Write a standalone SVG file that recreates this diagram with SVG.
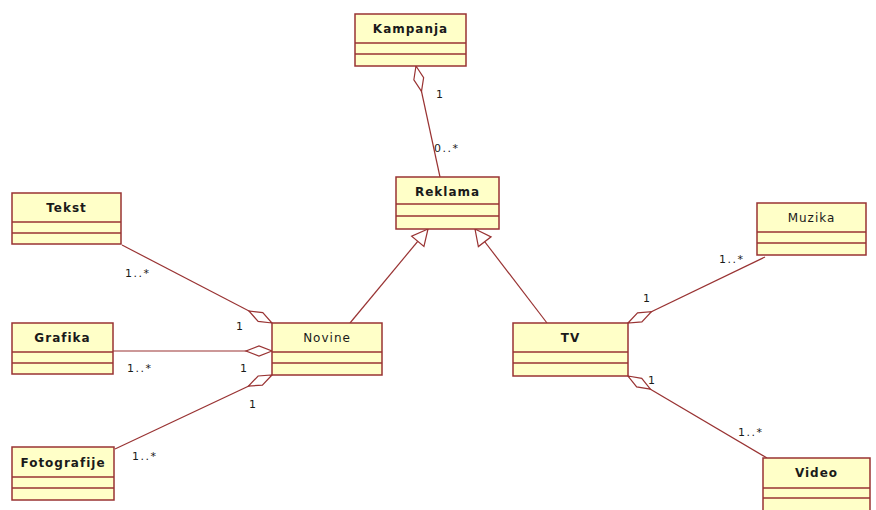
<svg xmlns="http://www.w3.org/2000/svg" width="876" height="510" viewBox="0 0 876 510">
<style>
.box{fill:#FFFFC8;stroke:#993333;stroke-width:1.5}
.div{stroke:#993333;stroke-width:1.5}
.name{font-family:"DejaVu Sans",sans-serif;font-size:12px;font-weight:bold;letter-spacing:1px;fill:#1a1a1a;text-anchor:middle}
.reg{font-weight:normal}
.conn{fill:none;stroke:#993333;stroke-width:1.2}
.mult{font-family:"DejaVu Sans",sans-serif;font-size:11px;letter-spacing:1.5px;fill:#1a1a1a}
</style>
<defs>
<marker id="dia" markerUnits="userSpaceOnUse" markerWidth="30" markerHeight="14" refX="0" refY="0" orient="auto" overflow="visible">
<path d="M0,0 L13,-5 L26,0 L13,5 Z" fill="#fff" stroke="#993333" stroke-width="1.2"/>
</marker>
<marker id="tri" markerUnits="userSpaceOnUse" markerWidth="20" markerHeight="20" refX="0" refY="0" orient="auto" overflow="visible">
<path d="M0,0 L16,-8 L16,8 Z" fill="#fff" stroke="#993333" stroke-width="1.2"/>
</marker>
</defs>
<g id="connectors">
<path class="conn" marker-start="url(#dia)" d="M416,66 L440,177"/>
<path class="conn" marker-start="url(#dia)" d="M272,323 L122,245"/>
<path class="conn" marker-start="url(#dia)" d="M272,351 L113,351"/>
<path class="conn" marker-start="url(#dia)" d="M272,375 L115,449"/>
<path class="conn" marker-start="url(#dia)" d="M628,323 L765,257"/>
<path class="conn" marker-start="url(#dia)" d="M628,376 L767,458"/>
<path class="conn" marker-start="url(#tri)" d="M428,229 L350,323"/>
<path class="conn" marker-start="url(#tri)" d="M475,229 L547,323"/>
<text class="mult" x="436" y="98">1</text>
<text class="mult" x="434" y="152">0..*</text>
<text class="mult" x="125" y="277">1..*</text>
<text class="mult" x="236" y="330">1</text>
<text class="mult" x="127" y="372">1..*</text>
<text class="mult" x="240" y="372">1</text>
<text class="mult" x="249" y="408">1</text>
<text class="mult" x="132" y="460">1..*</text>
<text class="mult" x="719" y="263">1..*</text>
<text class="mult" x="643" y="302">1</text>
<text class="mult" x="648" y="384">1</text>
<text class="mult" x="738" y="436">1..*</text>
</g>
<g id="Kampanja">
<rect class="box" x="355" y="14" width="111" height="52"/>
<line class="div" x1="355" y1="43" x2="466" y2="43"/><line class="div" x1="355" y1="54" x2="466" y2="54"/>
<text class="name" x="410.5" y="33">Kampanja</text>
</g>
<g id="Reklama">
<rect class="box" x="396" y="177" width="103" height="52"/>
<line class="div" x1="396" y1="204" x2="499" y2="204"/><line class="div" x1="396" y1="216" x2="499" y2="216"/>
<text class="name" x="447.5" y="196">Reklama</text>
</g>
<g id="Tekst">
<rect class="box" x="12" y="193" width="109" height="51"/>
<line class="div" x1="12" y1="222" x2="121" y2="222"/><line class="div" x1="12" y1="233" x2="121" y2="233"/>
<text class="name" x="66.5" y="212">Tekst</text>
</g>
<g id="Grafika">
<rect class="box" x="12" y="323" width="101" height="51"/>
<line class="div" x1="12" y1="352" x2="113" y2="352"/><line class="div" x1="12" y1="363" x2="113" y2="363"/>
<text class="name" x="62.5" y="342">Grafika</text>
</g>
<g id="Fotografije">
<rect class="box" x="12" y="447" width="102" height="53"/>
<line class="div" x1="12" y1="477" x2="114" y2="477"/><line class="div" x1="12" y1="488" x2="114" y2="488"/>
<text class="name" x="63" y="467">Fotografije</text>
</g>
<g id="Novine">
<rect class="box" x="272" y="323" width="110" height="52"/>
<line class="div" x1="272" y1="352" x2="382" y2="352"/><line class="div" x1="272" y1="363" x2="382" y2="363"/>
<text class="name reg" x="327" y="342">Novine</text>
</g>
<g id="TV">
<rect class="box" x="513" y="323" width="115" height="53"/>
<line class="div" x1="513" y1="352" x2="628" y2="352"/><line class="div" x1="513" y1="363" x2="628" y2="363"/>
<text class="name" x="570.5" y="342">TV</text>
</g>
<g id="Muzika">
<rect class="box" x="757" y="203" width="109" height="52"/>
<line class="div" x1="757" y1="232" x2="866" y2="232"/><line class="div" x1="757" y1="243" x2="866" y2="243"/>
<text class="name reg" x="811.5" y="222">Muzika</text>
</g>
<g id="Video">
<rect class="box" x="763" y="458" width="107" height="60"/>
<line class="div" x1="763" y1="488" x2="870" y2="488"/><line class="div" x1="763" y1="498" x2="870" y2="498"/>
<text class="name" x="816.5" y="477">Video</text>
</g>
</svg>
